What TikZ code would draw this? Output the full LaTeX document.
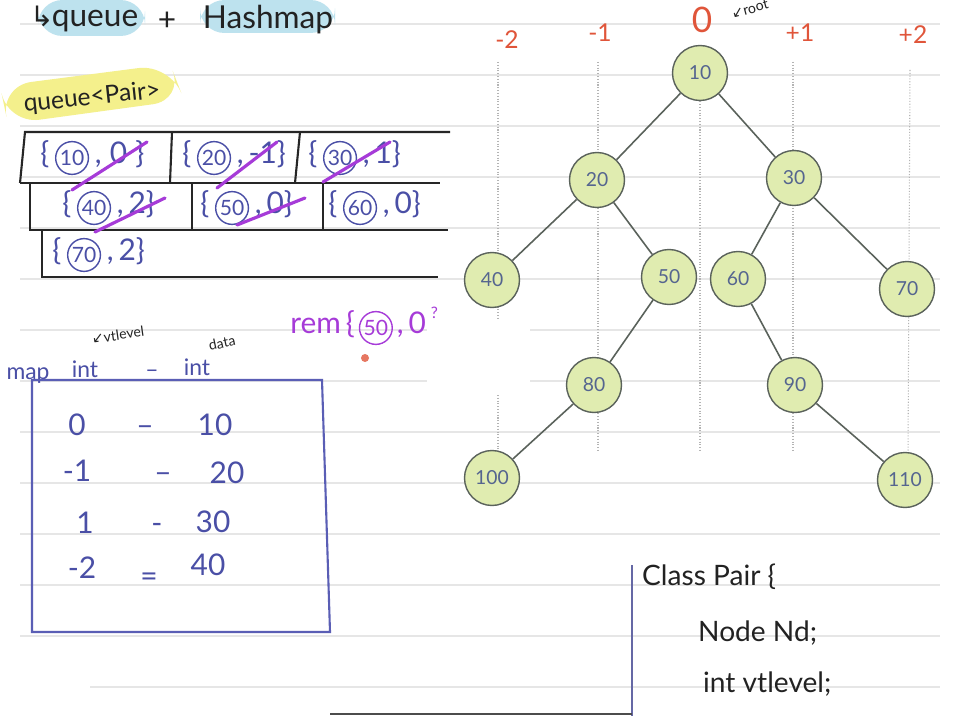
\documentclass[tikz,border=0pt]{standalone}
\usepackage{fontspec}
\setmainfont{Lato}
\newfontfamily\symf{DejaVu Sans}
\usetikzlibrary{positioning}
\definecolor{ink}{HTML}{4A4FA6}
\definecolor{strikec}{HTML}{A63BD8}
\definecolor{redink}{HTML}{E0553A}
\definecolor{hlblue}{HTML}{BDE2EE}
\definecolor{hlyellow}{HTML}{F4F08C}
\definecolor{treefill}{HTML}{E0ECB0}
\definecolor{treeline}{HTML}{5A625B}
\definecolor{rulec}{HTML}{E6E6E6}
\definecolor{vlinec}{HTML}{B4B4B4}
\definecolor{treetext}{HTML}{55658F}
\definecolor{mapc}{HTML}{5A5EB5}
\definecolor{darkink}{HTML}{222222}
\newcommand{\qcell}[6]{%
  \node[hand,anchor=west] (#1a) at (#2,#3) {#4};
  \node[cnum,right=3pt of #1a] (#1b) {#5};
  \node[hand,right=3pt of #1b] (#1c) {#6};}
\begin{document}
\begin{tikzpicture}[x=0.02cm,y=-0.02cm,
  rule/.style={rulec,line width=0.6pt},
  vline/.style={vlinec,densely dotted,line width=0.6pt},
  tnode/.style={circle,draw=treeline,fill=treefill,line width=0.8pt,minimum size=1.1cm,inner sep=0pt,text=treetext,font=\fontsize{11}{13}\selectfont},
  tedge/.style={treeline,line width=0.9pt},
  colab/.style={text=redink,font=\fontsize{14}{16}\selectfont},
  hand/.style={text=ink,font=\fontsize{17}{20}\selectfont,inner sep=0pt,text height=1.6ex,text depth=0.4ex},
  cnum/.style={circle,draw=ink,line width=0.8pt,text=ink,font=\fontsize{12}{14}\selectfont,inner sep=0.8pt},
  strike/.style={strikec,line width=1.8pt,line cap=round},
  qline/.style={black!85,line width=1.2pt},
  mapbox/.style={mapc,line width=1.2pt},
  maptext/.style={text=ink,font=\fontsize{17}{20}\selectfont,text height=1.5ex,text depth=0.2ex,inner sep=1pt},
  blk/.style={text=darkink,font=\fontsize{16}{19}\selectfont},
  note/.style={text=darkink,font=\fontsize{8}{9}\selectfont}]
\useasboundingbox (0,0) rectangle (960,716);
\fill[white] (0,0) rectangle (960,716);
% ruled lines
\foreach \yy in {24,75,126,177,228,279,330,381,432,483,534,585,636,687}
  \draw[rule] (20,\yy) -- (940,\yy);
\fill[white] (427,318) rectangle (530,395);
\fill[white] (0,640) rectangle (90,716);
% highlights
\fill[hlblue,rounded corners=14] (38,0) rectangle (145,36);
\fill[hlblue,rounded corners=14] (200,0) rectangle (335,33);
\fill[hlyellow,rounded corners=18] (0,86) -- (170,64) -- (184,100) -- (8,124) -- cycle;
% title
\node[blk] (arr) at (42,16) {\symf ↳};
\node[blk,font=\fontsize{18}{20}\selectfont] (tq) at (95,21) {queue};
\node[blk,font=\fontsize{18}{20}\selectfont] (tp) at (167,21) {+};
\node[blk,font=\fontsize{18}{20}\selectfont] (th) at (268,20) {Hashmap};
\node[blk,font=\fontsize{14}{16}\selectfont,rotate=6] (qp) at (92,98) {queue<Pair>};
% queue table
\draw[qline] (20,183) -- (25,132) -- (450,132);
\draw[qline] (20,183) -- (440,183);
\draw[qline] (172,132) -- (170,183);
\draw[qline] (300,132) -- (295,183);
\draw[qline] (30,183) -- (30,230) -- (448,230);
\draw[qline] (192,183) -- (192,230);
\draw[qline] (323,183) -- (323,230);
\draw[qline] (42,230) -- (42,277) -- (438,277);
\qcell{qa}{40}{158}{\{}{10}{,\;0\;\}}
\qcell{qb}{182}{158}{\{}{20}{,\,-1\}}
\qcell{qc}{308}{158}{\{}{30}{,\,1\}}
\qcell{qd}{62}{208}{\{}{40}{,\,2\}}
\qcell{qe}{200}{208}{\{}{50}{,\,0\}}
\qcell{qf}{328}{208}{\{}{60}{,\,0\}}
\qcell{qg}{52}{255}{\{}{70}{,\,2\}}
\draw[strike] (72,190) -- (147,142);
\draw[strike] (217,188) -- (277,142);
\draw[strike] (323,182) -- (390,142);
\draw[strike] (95,232) -- (165,198);
\draw[strike] (237,225) -- (305,198);
% rem
\node[hand,text=strikec,anchor=west] (rema) at (290,328) {rem\,\{};
\node[cnum,draw=strikec,text=strikec,right=2pt of rema] (remb) {50};
\node[hand,text=strikec,right=2pt of remb] (remc) {,\,0\,\raisebox{1ex}{\small ?}};
\fill[redink!80] (365,358) circle (4);
% map header
\node[maptext,font=\fontsize{13}{15}\selectfont] (mapw) at (28,374) {map};
\node[maptext,font=\fontsize{13}{15}\selectfont] (int1) at (85,372) {int};
\node[maptext,font=\fontsize{13}{15}\selectfont] (dsh) at (152,372) {–};
\node[maptext,font=\fontsize{13}{15}\selectfont] (int2) at (197,370) {int};
\node[note,rotate=8] (vtl) at (118,335) {{\symf ↙}vtlevel};
\node[note,rotate=12] (dat) at (222,343) {data};
% map box
\draw[mapbox] (32,380) -- (322,380) -- (330,632) -- (32,632) -- cycle;
\node[maptext] (m0a) at (77,430) {0};
\node[maptext] (m0b) at (145,430) {–};
\node[maptext] (m0c) at (215,430) {10};
\node[maptext] (m1a) at (77,476) {-1};
\node[maptext] (m1b) at (163,477) {–};
\node[maptext] (m1c) at (227,478) {20};
\node[maptext] (m2a) at (85,528) {1};
\node[maptext] (m2b) at (157,528) {-};
\node[maptext] (m2c) at (213,527) {30};
\node[maptext] (m3a) at (82,573) {-2};
\node[maptext] (m3b) at (149,581) {=};
\node[maptext] (m3c) at (208,570) {40};
% class pair
\draw[mapc!70!gray,line width=1.2pt] (632,565) -- (632,716);
\draw[black!70,line width=1.4pt] (330,714) -- (632,714);
\node[blk,anchor=west] (cls) at (636,577) {Class Pair \{};
\node[blk,anchor=west] (cnd) at (692,633) {Node Nd;};
\node[blk,anchor=west] (cint) at (697,684) {int vtlevel;};
% vertical level lines
\draw[vline] (498,62) -- (498,318);
\draw[vline] (498,395) -- (498,455);
\draw[vline] (598,62) -- (598,452);
\draw[vline] (700,62) -- (700,452);
\draw[vline] (793,62) -- (793,452);
\draw[vline] (910,70) -- (908,455);
% column labels
\node[colab] (lm2) at (507,40) {-2};
\node[colab] (lm1) at (600,33) {-1};
\node[colab,font=\fontsize{20}{22}\selectfont] (l0) at (702,20) {0};
\node[colab] (lp1) at (800,33) {+1};
\node[colab] (lp2) at (913,35) {+2};
\node[note,rotate=15] (rootn) at (750,9) {{\symf ↙}root};
% tree
\node[tnode] (n10) at (700,73) {10};
\node[tnode] (n20) at (597,180) {20};
\node[tnode] (n30) at (794,178) {30};
\node[tnode] (n40) at (492,280) {40};
\node[tnode] (n50) at (669,277) {50};
\node[tnode] (n60) at (738,279) {60};
\node[tnode] (n70) at (907,289) {70};
\node[tnode] (n80) at (594,385) {80};
\node[tnode] (n90) at (795,385) {90};
\node[tnode] (n100) at (492,478) {100};
\node[tnode] (n110) at (905,480) {110};
\draw[tedge] (n10) -- (n20);
\draw[tedge] (n10) -- (n30);
\draw[tedge] (n20) -- (n40);
\draw[tedge] (n20) -- (n50);
\draw[tedge] (n30) -- (n60);
\draw[tedge] (n30) -- (n70);
\draw[tedge] (n50) -- (n80);
\draw[tedge] (n60) -- (n90);
\draw[tedge] (n80) -- (n100);
\draw[tedge] (n90) -- (n110);
\end{tikzpicture}
\end{document}
